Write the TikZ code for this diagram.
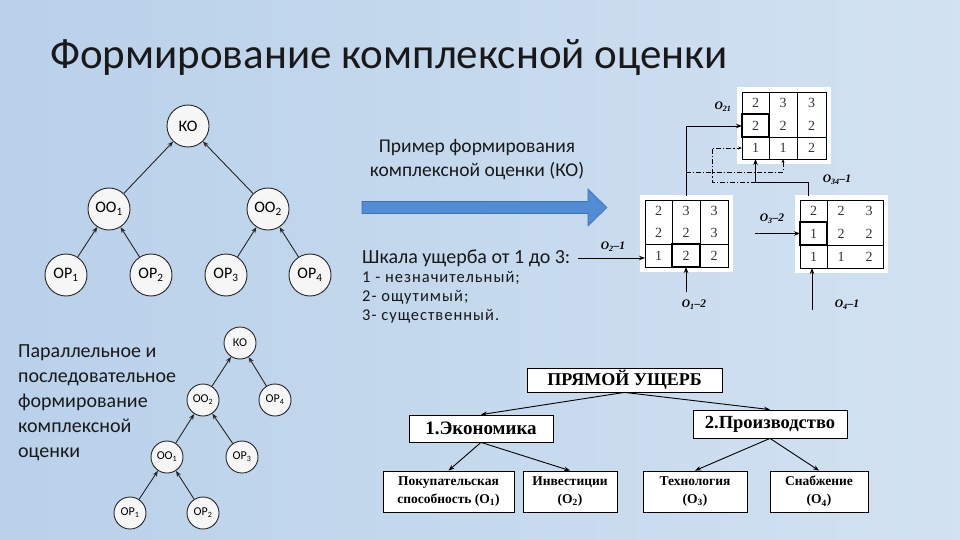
\documentclass[tikz,border=0pt]{standalone}
\usepackage{fontspec}
\setmainfont{Carlito}
\newfontfamily\seriffont{Liberation Serif}
\newfontfamily\spacedfont[LetterSpace=6]{Carlito}
\usetikzlibrary{arrows.meta}

\definecolor{bgL}{RGB}{200,221,240}
\definecolor{bgA}{RGB}{182,207,233}
\definecolor{bgM}{RGB}{200,219,238}
\definecolor{bgR}{RGB}{222,234,246}
\definecolor{arrowblue}{RGB}{80,141,212}
\definecolor{arrowedge}{RGB}{62,112,178}
\definecolor{circfill}{RGB}{246,246,246}
\definecolor{inkc}{RGB}{25,25,25}

\pgfdeclarehorizontalshading{bgshade}{100bp}{color(0bp)=(bgL); color(20bp)=(bgA); color(55bp)=(bgM); color(100bp)=(bgR)}

\begin{document}
\begin{tikzpicture}[x=1pt,y=-1pt,
  circ/.style={circle,draw=black!85,fill=circfill,line width=0.9pt,minimum size=42pt,inner sep=0pt,font=\fontsize{16}{16}\selectfont},
  scirc/.style={circ,minimum size=32pt,font=\fontsize{12}{12}\selectfont},
  tarr/.style={-{Stealth[length=6pt,width=4.5pt]},line width=0.9pt,black!85},
  marr/.style={-{Stealth[length=6pt,width=4.5pt]},line width=0.8pt,black},
  dd/.style={line width=0.8pt,black,dash pattern=on 5pt off 2pt on 1.2pt off 2pt},
  hbox/.style={draw=black,fill=white,line width=0.8pt,inner sep=0pt,font=\seriffont\bfseries},
  lab/.style={font=\seriffont\bfseries\itshape\fontsize{11.5}{11.5}\selectfont,inner sep=0pt},
  num/.style={font=\seriffont\fontsize{14}{14}\selectfont,text=black!80,inner sep=0pt},
  grid/.style={line width=0.7pt,black},
  thick box/.style={line width=1.8pt,black},
  leaf/.style={hbox,minimum height=41pt,align=center,font=\seriffont\bfseries\fontsize{13.5}{18}\selectfont}
]
\useasboundingbox (0,0) rectangle (960,540);
\shade[shading=bgshade] (0,0) rectangle (960,540);

% title
\node[anchor=base west,inner sep=0pt,font=\fontsize{43}{43}\selectfont,text=inkc] (title) at (50,69) {Формирование комплексной оценки};

% ---------- top tree ----------
\node[circ] (ko) at (188,126) {КО};
\node[circ] (oo1) at (109,209) {ОО\textsubscript{1}};
\node[circ] (oo2) at (268,209) {ОО\textsubscript{2}};
\node[circ] (op1) at (66,275) {ОР\textsubscript{1}};
\node[circ] (op2) at (151,275) {ОР\textsubscript{2}};
\node[circ] (op3) at (226,275) {ОР\textsubscript{3}};
\node[circ] (op4) at (310,275) {ОР\textsubscript{4}};
\draw[tarr] (oo1) -- (ko);
\draw[tarr] (oo2) -- (ko);
\draw[tarr] (op1) -- (oo1);
\draw[tarr] (op2) -- (oo1);
\draw[tarr] (op3) -- (oo2);
\draw[tarr] (op4) -- (oo2);

% ---------- bottom tree ----------
\node[scirc] (bko) at (240,343) {КО};
\node[scirc] (boo2) at (203,400) {ОО\textsubscript{2}};
\node[scirc] (bop4) at (275,400) {ОР\textsubscript{4}};
\node[scirc] (boo1) at (167,457) {ОО\textsubscript{1}};
\node[scirc] (bop3) at (242,457) {ОР\textsubscript{3}};
\node[scirc] (bop1) at (130,513) {ОР\textsubscript{1}};
\node[scirc] (bop2) at (203,513) {ОР\textsubscript{2}};
\draw[tarr] (boo2) -- (bko);
\draw[tarr] (bop4) -- (bko);
\draw[tarr] (boo1) -- (boo2);
\draw[tarr] (bop3) -- (boo2);
\draw[tarr] (bop1) -- (boo1);
\draw[tarr] (bop2) -- (boo1);

\node[anchor=north west,align=left,inner sep=0pt,text=inkc,font=\fontsize{20}{25}\selectfont] (ptext) at (18,344)
  {Параллельное и\\последовательное\\формирование\\комплексной\\оценки};

% ---------- middle texts ----------
\node[align=center,inner sep=0pt,text=inkc,font=\fontsize{19.5}{24}\selectfont] (example) at (477,160)
  {Пример формирования\\комплексной оценки (КО)};
\fill[arrowblue,draw=arrowedge,line width=0.6pt] (362,201.5) -- (588,201.5) -- (588,189) -- (607,207.5) -- (588,226) -- (588,213.5) -- (362,213.5) -- cycle;
\node[anchor=base west,inner sep=0pt,text=inkc,font=\fontsize{20}{20}\selectfont] (scale) at (362,263) {Шкала ущерба от 1 до 3:};
\node[anchor=north west,align=left,inner sep=0pt,text=inkc,font=\spacedfont\fontsize{16.5}{19}\selectfont] (scalelist) at (362,271)
  {1 - незначительный;\\2- ощутимый;\\3- существенный.};

% ---------- matrix 1 (top) ----------
\fill[white] (737,87) rectangle (831,164);
\draw[grid] (742,92) rectangle (826,159);
\draw[grid] (769,92) -- (769,159) (797,92) -- (797,159) (742,137) -- (826,137);
\draw[thick box] (742,114) rectangle (769,137);
\node[num] (m1a) at (755.5,103) {2};
\node[num] (m1b) at (783,103) {3};
\node[num] (m1c) at (811.5,103) {3};
\node[num] (m1d) at (755.5,125.5) {2};
\node[num] (m1e) at (783,125.5) {2};
\node[num] (m1f) at (811.5,125.5) {2};
\node[num] (m1g) at (755.5,148) {1};
\node[num] (m1h) at (783,148) {1};
\node[num] (m1i) at (811.5,148) {2};

% ---------- matrix 2 (left) ----------
\fill[white] (640,195) rectangle (733,272);
\draw[grid] (645,200) rectangle (728,267);
\draw[grid] (672,200) -- (672,267) (700,200) -- (700,267) (645,244) -- (728,244);
\draw[thick box] (672,244) rectangle (700,267);
\node[num] (m2a) at (658.5,211) {2};
\node[num] (m2b) at (686,211) {3};
\node[num] (m2c) at (714,211) {3};
\node[num] (m2d) at (658.5,233) {2};
\node[num] (m2e) at (686,233) {2};
\node[num] (m2f) at (714,233) {3};
\node[num] (m2g) at (658.5,255.5) {1};
\node[num] (m2h) at (686,255.5) {2};
\node[num] (m2i) at (714,255.5) {2};

% ---------- matrix 3 (right) ----------
\fill[white] (795,195) rectangle (888,273);
\draw[grid] (800,200) rectangle (883,268);
\draw[grid] (827,200) -- (827,268) (800,245) -- (883,245);
\draw[thick box] (800,222) rectangle (827,245);
\node[num] (m3a) at (813.5,211) {2};
\node[num] (m3b) at (841,211) {2};
\node[num] (m3c) at (869,211) {3};
\node[num] (m3d) at (813.5,233.5) {1};
\node[num] (m3e) at (841,233.5) {2};
\node[num] (m3f) at (869,233.5) {2};
\node[num] (m3g) at (813.5,256.5) {1};
\node[num] (m3h) at (841,256.5) {1};
\node[num] (m3i) at (869,256.5) {2};

% ---------- matrix connectors ----------
\coordinate (m2top) at (686,196);
\coordinate (m3top) at (808,196);
\coordinate (m1r2) at (742,126);
\coordinate (m1r3) at (742,148);
\coordinate (m1c1) at (755.5,159);
\coordinate (m1c2) at (783,159);
\coordinate (br1) at (686,172);
\coordinate (jn) at (755.5,182);
\coordinate (dl) at (712,182);

\draw[marr] (m2top) |- (m1r2);
\draw[dd,-{Stealth[length=4pt,width=3pt]}] (br1) -| (m1c2);
\draw[line width=0.8pt] (m3top) |- (jn);
\draw[marr] (jn) -- (m1c1);
\draw[dd,-{Stealth[length=4pt,width=3pt]}] (jn) -- (dl) |- (m1r3);

\coordinate (a1s) at (578,258);
\coordinate (a1e) at (645,258);
\coordinate (a2s) at (686,292);
\coordinate (a2e) at (686,267);
\coordinate (a3s) at (755,233.5);
\coordinate (a3e) at (800,233.5);
\coordinate (a4s) at (812,310);
\coordinate (a4e) at (812,268);
\draw[marr] (a1s) -- (a1e);
\draw[marr] (a2s) -- (a2e);
\draw[marr] (a3s) -- (a3e);
\draw[marr] (a4s) -- (a4e);

\node[lab] (l21) at (723,107) {O\textsubscript{21}};
\node[lab] (l34) at (837,180) {O\textsubscript{34}–1};
\node[lab] (l2) at (613,247) {O\textsubscript{2}–1};
\node[lab] (l1) at (694,305) {O\textsubscript{1}–2};
\node[lab] (l3) at (772,219) {O\textsubscript{3}–2};
\node[lab] (l4) at (847,305) {O\textsubscript{4}–1};

% ---------- hierarchy ----------
\node[hbox,minimum width=195pt,minimum height=24pt,font=\seriffont\bfseries\fontsize{18}{18}\selectfont] (pu) at (624.5,380) {ПРЯМОЙ УЩЕРБ};
\node[hbox,minimum width=144pt,minimum height=27pt,font=\seriffont\bfseries\fontsize{19}{19}\selectfont] (ek) at (481,428.5) {1.Экономика};
\node[hbox,minimum width=154pt,minimum height=28pt,font=\seriffont\bfseries\fontsize{18.5}{18.5}\selectfont] (pr) at (770,424) {2.Производство};
\node[leaf,minimum width=131pt] (b1) at (448.5,491.5) {Покупательская\\способность (O\textsubscript{1})};
\node[leaf,minimum width=94pt] (b2) at (570,491.5) {Инвестиции\\(O\textsubscript{2})};
\node[leaf,minimum width=104pt] (b3) at (695,491.5) {Технология\\(O\textsubscript{3})};
\node[leaf,minimum width=98pt] (b4) at (819,491.5) {Снабжение\\(O\textsubscript{4})};
\draw[tarr,black] (pu.south) -- (ek.north);
\draw[tarr,black] (pu.south) -- (pr.north);
\draw[tarr,black] (ek.south) -- (b1.north);
\draw[tarr,black] (ek.south) -- (b2.north);
\draw[tarr,black] (pr.south) -- (b3.north);
\draw[tarr,black] (pr.south) -- (b4.north);
\end{tikzpicture}
\end{document}
